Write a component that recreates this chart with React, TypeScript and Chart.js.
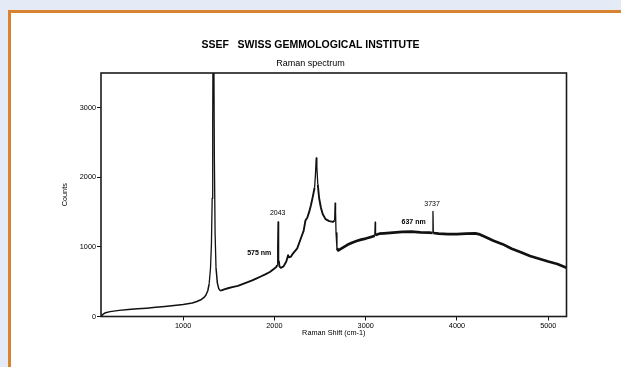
import React, { useEffect, useRef } from 'react';
import { Chart, registerables } from 'chart.js';

Chart.register(...registerables);

// Raman shift (cm-1) and counts
const ramanShift = [
  100, 120, 150, 200, 300, 400, 500, 600, 700, 800, 900, 1000, 1100, 1150, 1200, 1230, 1250,
  1270, 1285, 1300, 1310, 1318, 1324, 1329, 1333, 1337, 1342, 1350, 1360, 1375, 1390, 1405,
  1420, 1450, 1500, 1550, 1600, 1650, 1700, 1750, 1800, 1850, 1900, 1950, 2000, 2020, 2030,
  2036, 2040, 2044, 2048, 2055, 2070, 2100, 2130, 2150, 2160, 2180, 2200, 2250, 2300, 2320,
  2340, 2360, 2380, 2400, 2420, 2440, 2450, 2458, 2465, 2475, 2490, 2510, 2530, 2560, 2600,
  2640, 2660, 2665, 2670, 2675, 2685, 2700, 2750, 2800, 2850, 2900, 2950, 3000, 3050, 3100,
  3104, 3108, 3150, 3200, 3300, 3400, 3500, 3600, 3700, 3733, 3737, 3741, 3800, 3900, 4000,
  4100, 4200, 4250, 4300, 4400, 4500, 4600, 4700, 4800, 4900, 5000, 5100, 5200,
];
const counts = [
  0, 30, 55, 70, 88, 100, 110, 120, 132, 145, 158, 172, 195, 215, 245, 275, 310,
  370, 470, 700, 1050, 1700, 2800, 4500, 6000, 4200, 2300, 1200, 700, 480, 400, 372,
  375, 390, 410, 425, 440, 465, 490, 515, 545, 575, 605, 640, 690, 710, 740,
  1000, 1360, 1200, 800, 720, 700, 720, 790, 880, 850, 860, 900, 980, 1160, 1230,
  1380, 1420, 1500, 1600, 1720, 1850, 2050, 2280, 2150, 1900, 1700, 1560, 1470, 1400, 1370,
  1360, 1380, 1630, 1500, 1200, 980, 950, 990, 1030, 1060, 1085, 1105, 1120, 1140, 1160,
  1355, 1170, 1190, 1195, 1205, 1215, 1220, 1210, 1205, 1200, 1510, 1200, 1190, 1185, 1185,
  1190, 1195, 1180, 1150, 1090, 1040, 975, 925, 870, 830, 790, 755, 700,
];

const xTickValues = [1000, 2000, 3000, 4000, 5000];
const yTickValues = [0, 1000, 2000, 3000];

// Peak annotations (anchored in data units)
const noteTexts = ['2043', '575 nm', '637 nm', '3737'];
const noteShift = [2036, 1834, 3525, 3727];
const noteCounts = [1493, 910, 1355, 1613];
const noteBold = [false, true, true, false];

const FONT = "'Liberation Sans', Arial, Helvetica, sans-serif";

export default function App() {
  const ref = useRef<HTMLCanvasElement>(null);

  useEffect(() => {
    if (!ref.current) return;
    Chart.defaults.font.family = FONT;

    const framePlugin = {
      id: 'frame',
      afterDatasetsDraw(chart: any) {
        const { ctx, chartArea: a } = chart;
        ctx.save();
        ctx.strokeStyle = '#1c1c1c';
        ctx.lineWidth = 1.6;
        ctx.strokeRect(a.left, a.top, a.right - a.left, a.bottom - a.top);
        ctx.restore();
      },
    };

    const notesPlugin = {
      id: 'notes',
      afterDatasetsDraw(chart: any) {
        const { ctx } = chart;
        const xs = chart.scales.x;
        const ys = chart.scales.y;
        ctx.save();
        ctx.fillStyle = '#000';
        ctx.textAlign = 'center';
        ctx.textBaseline = 'middle';
        noteTexts.forEach((t, i) => {
          ctx.font = `${noteBold[i] ? 'bold ' : ''}7px ${FONT}`;
          ctx.fillText(t, xs.getPixelForValue(noteShift[i]), ys.getPixelForValue(noteCounts[i]));
        });
        ctx.restore();
      },
    };

    const segWidth = (c: any) => {
      const dx = Math.abs(c.p1.parsed.x - c.p0.parsed.x) || 1;
      const dy = Math.abs(c.p1.parsed.y - c.p0.parsed.y);
      if (dy / dx > 15) return 1.3;
      const x = c.p0.parsed.x;
      return x >= 2680 ? 2.7 : x >= 1400 ? 1.9 : 1.5;
    };

    const chart = new Chart(ref.current, {
      type: 'line',
      data: {
        datasets: [
          {
            data: ramanShift.map((v, i) => ({ x: v, y: counts[i] })),
            borderColor: '#111',
            borderWidth: 1.6,
            pointRadius: 0,
            tension: 0,
            fill: false,
            borderJoinStyle: 'round',
            segment: { borderWidth: segWidth },
          } as any,
        ],
      },
      options: {
        responsive: false,
        animation: false,
        events: [],
        layout: { padding: 0 },
        plugins: {
          legend: { display: false },
          tooltip: { enabled: false },
          title: {
            display: true,
            text: 'SSEF   SWISS GEMMOLOGICAL INSTITUTE',
            color: '#000',
            font: { size: 10.5, weight: 'bold', family: FONT },
            padding: { top: 39, bottom: 4 },
          },
          subtitle: {
            display: true,
            text: 'Raman spectrum',
            color: '#000',
            font: { size: 9, family: FONT },
            padding: { top: 3, bottom: 3.6 },
          },
        },
        scales: {
          x: {
            type: 'linear',
            min: 100,
            max: 5200,
            afterBuildTicks: (s: any) => {
              s.ticks = xTickValues.map((v) => ({ value: v }));
            },
            afterFit: (s: any) => {
              s.height = 50.5;
            },
            grid: { drawOnChartArea: false, drawTicks: true, tickLength: 4, color: '#111', lineWidth: 1 },
            border: { display: false },
            ticks: {
              color: '#000',
              font: { size: 7.3 },
              padding: 1,
              maxRotation: 0,
              autoSkip: false,
              callback: (v: any) => String(v),
            },
            title: {
              display: true,
              text: 'Raman Shift (cm-1)',
              color: '#000',
              font: { size: 7.3 },
              padding: { top: 0, bottom: 29.6 },
            },
          },
          y: {
            type: 'linear',
            min: 0,
            max: 3500,
            afterBuildTicks: (s: any) => {
              s.ticks = yTickValues.map((v) => ({ value: v }));
            },
            afterFit: (s: any) => {
              s.width = 101;
            },
            grid: { drawOnChartArea: false, drawTicks: true, tickLength: 4, color: '#111', lineWidth: 1 },
            border: { display: false },
            ticks: { color: '#000', font: { size: 7.3 }, padding: 1, autoSkip: false, callback: (v: any) => String(v) },
            title: {
              display: true,
              text: 'Counts',
              color: '#000',
              font: { size: 7.3 },
              padding: { top: 60.6, bottom: 0 },
            },
          },
          yRight: {
            type: 'linear',
            position: 'right',
            min: 0,
            max: 3500,
            afterFit: (s: any) => {
              s.width = 54.5;
            },
            grid: { display: false, drawTicks: false },
            border: { display: false },
            ticks: { display: false },
          },
        },
      } as any,
      plugins: [framePlugin, notesPlugin],
    });
    return () => chart.destroy();
  }, []);

  return (
    <div style={{ position: 'fixed', left: 0, top: 0, width: 621, height: 367, background: '#e4eaf6', overflow: 'hidden' }}>
      <div
        style={{
          position: 'absolute',
          left: 8,
          top: 10,
          right: 0,
          bottom: 0,
          background: '#fff',
          borderLeft: '3px solid #d98230',
          borderTop: '3px solid #d98230',
        }}
      />
      <canvas ref={ref} width={621} height={367} style={{ position: 'absolute', left: 0, top: 0, display: 'block' }} />
    </div>
  );
}
